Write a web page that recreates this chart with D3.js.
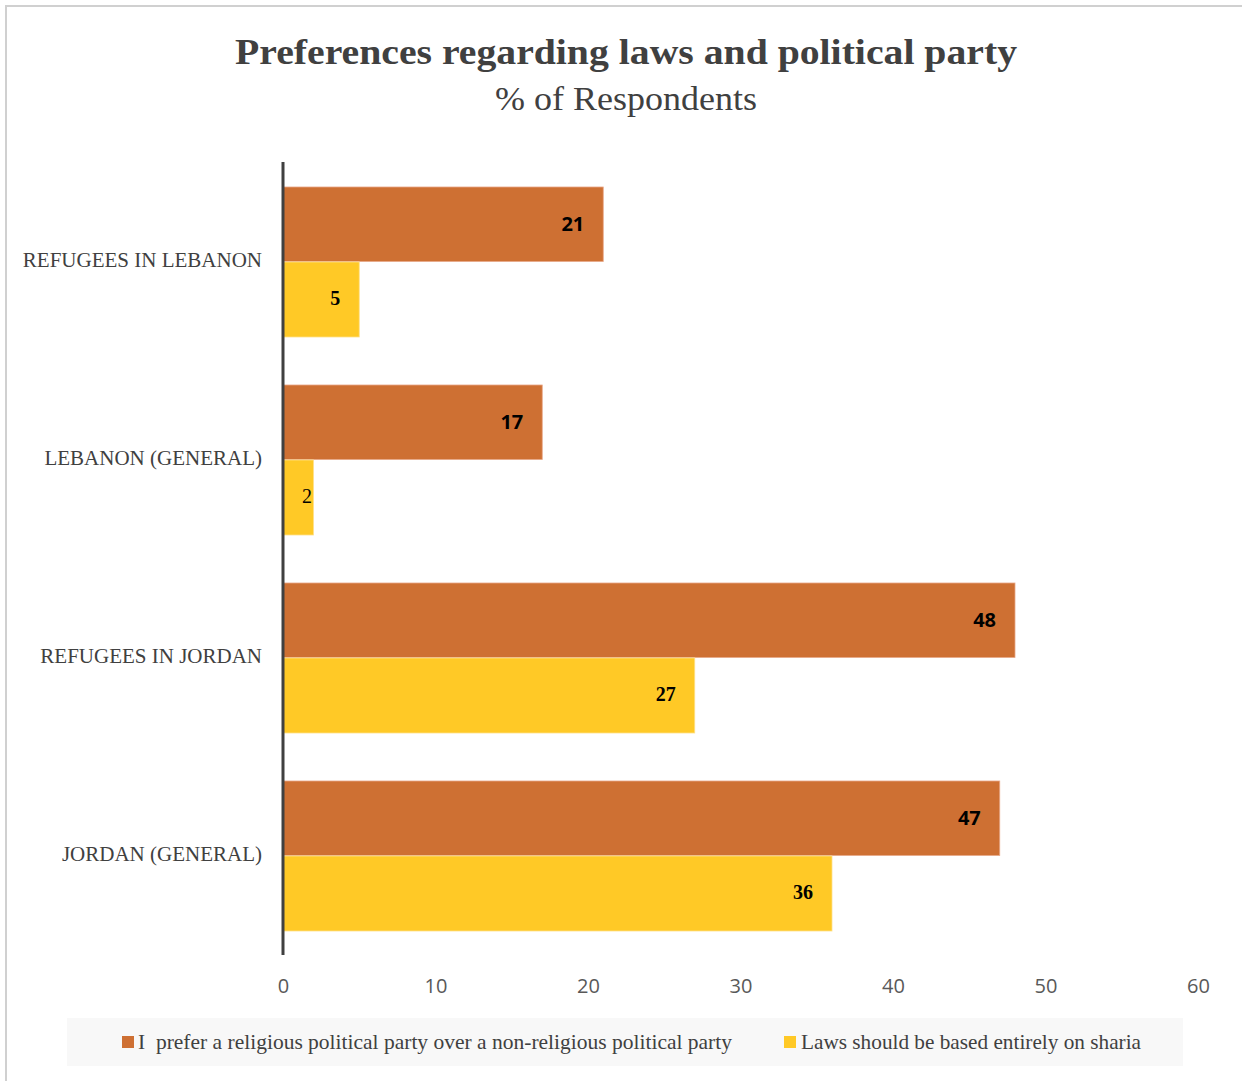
<!DOCTYPE html>
<html><head><meta charset="utf-8">
<script src="https://cdn.jsdelivr.net/npm/d3@7"></script>
<style>body{margin:0;background:#fff}</style>
</head><body>
<svg id="c" width="1242" height="1081"></svg>
<script>
const categories = ["REFUGEES IN LEBANON","LEBANON (GENERAL)","REFUGEES IN JORDAN","JORDAN (GENERAL)"];
const seriesNames = ["I  prefer a religious political party over a non-religious political party","Laws should be based entirely on sharia"];
const partyValues = [21,17,48,47];
const shariaValues = [5,2,27,36];
const xTicks = [0,10,20,30,40,50,60];
const colors = ["#CE7033","#FFC926"];

const svg = d3.select("#c");
const serif = "'Liberation Serif','DejaVu Serif',serif";
const sans = "'Open Sans','Liberation Sans',sans-serif";

// border
svg.append("rect").attr("x",6).attr("y",6).attr("width",1250).attr("height",1090)
  .attr("fill","#fff").attr("stroke","#d0d0d0").attr("stroke-width",2);

// title
svg.append("text").attr("x",626).attr("y",64).attr("text-anchor","middle")
  .attr("font-family",serif).attr("font-weight","bold").attr("font-size",36)
  .attr("fill","#404040").attr("textLength",782).attr("lengthAdjust","spacingAndGlyphs")
  .text("Preferences regarding laws and political party");
svg.append("text").attr("x",626).attr("y",110).attr("text-anchor","middle")
  .attr("font-family",serif).attr("font-size",34)
  .attr("fill","#404040").attr("textLength",262).attr("lengthAdjust","spacingAndGlyphs")
  .text("% of Respondents");

const x = d3.scaleLinear().domain([0,60]).range([283,1198]);
const y = d3.scaleBand().domain(categories).range([163,955]).paddingInner(0.2424).paddingOuter(0.1212);
const sub = d3.scaleBand().domain([0,1]).range([0,y.bandwidth()]);

const data = categories.map((c,i)=>({c, v:[partyValues[i], shariaValues[i]]}));

const g = svg.append("g");
data.forEach(d=>{
  d.v.forEach((v,k)=>{
    g.append("rect").attr("x",x(0)).attr("y",y(d.c)+sub(k))
      .attr("width",x(v)-x(0)).attr("height",sub.bandwidth()-(k===0?0.5:0))
      .attr("fill",colors[k]).attr("stroke", k===0?"#e8a888":"#ffe08a").attr("stroke-width",0.8);
    const lx = Math.max(x(v)-(k===0?19:19), x(0)+29);
    const t = g.append("text").attr("x",lx).attr("y",y(d.c)+sub(k)+sub.bandwidth()/2+(k===0?7:5))
      .attr("text-anchor","end").attr("fill","#000").text(v);
    if(k===0) t.attr("font-family",sans).attr("font-weight","bold").attr("font-size",20);
    else t.attr("font-family",serif).attr("font-weight", v===2?"normal":"bold").attr("font-size",20);
  });
});

// y axis line
svg.append("line").attr("x1",283).attr("x2",283).attr("y1",162).attr("y2",955)
  .attr("stroke","#404040").attr("stroke-width",3);

// category labels
categories.forEach(c=>{
  svg.append("text").attr("x",262).attr("y",y(c)+y.bandwidth()/2+5).attr("text-anchor","end")
    .attr("font-family",serif).attr("font-size",21).attr("fill","#404040").text(c);
});

// x axis
const xa = svg.append("g").attr("transform","translate(0,955)")
  .call(d3.axisBottom(x).tickValues(xTicks).tickSize(0).tickPadding(24));
xa.select(".domain").remove();
xa.selectAll("text").attr("font-family",sans).attr("font-size",20).attr("fill","#595959");

// legend
svg.append("rect").attr("x",67).attr("y",1018).attr("width",1116).attr("height",48).attr("fill","#f8f8f8");
const leg = [{x:122, tx:138, w:594},{x:784, tx:801, w:340}];
leg.forEach((l,i)=>{
  svg.append("rect").attr("x",l.x).attr("y",1036).attr("width",12).attr("height",12).attr("fill",colors[i]);
  svg.append("text").attr("x",l.tx).attr("y",1049).attr("font-family",serif).attr("font-size",21)
    .attr("fill","#404040").attr("textLength",l.w).attr("lengthAdjust","spacingAndGlyphs").attr("xml:space","preserve")
    .text(seriesNames[i]);
});
</script>
</body></html>
